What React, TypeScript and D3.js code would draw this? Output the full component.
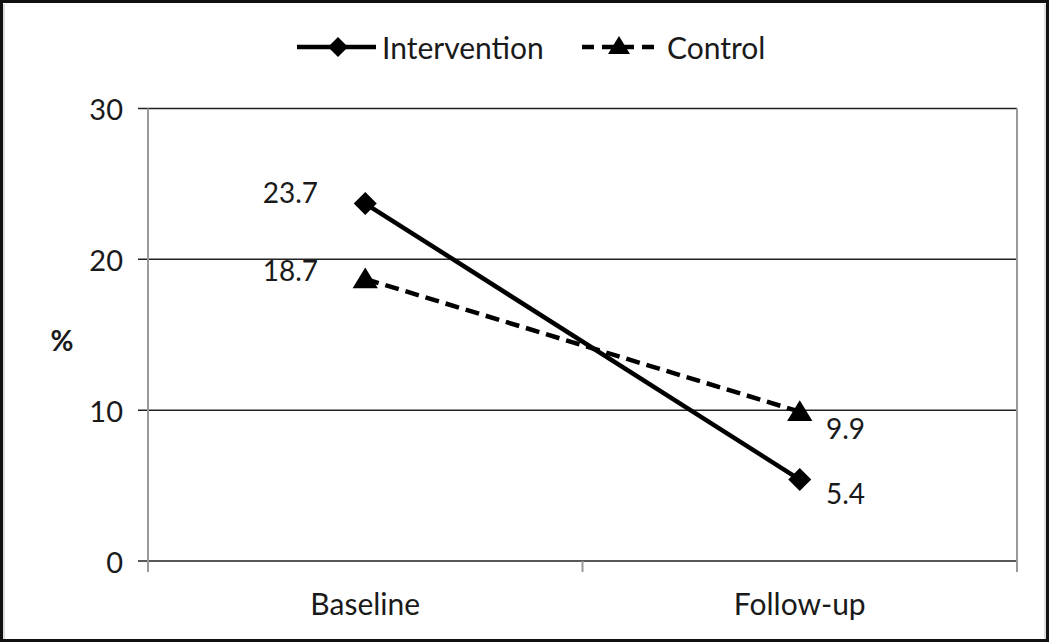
import React from "react";
import * as d3 from "d3";

const categories = ["Baseline", "Follow-up"];
const interventionValues = [23.7, 5.4];
const controlValues = [18.7, 9.9];
const yTicks = [0, 10, 20, 30];
const seriesNames = ["Intervention", "Control"];

const W = 1050, H = 643;
const FONT = "Lato, Carlito, 'Open Sans', sans-serif";
const TXT = "#1a1a1a";

export default function App() {
  const x0 = 148, x1 = 1017, yTop = 108.5, yBot = 561;
  const band = d3.scaleBand<string>().domain(categories).range([x0, x1]).paddingInner(0).paddingOuter(0);
  const xc = (c: string) => (band(c) as number) + band.bandwidth() / 2;
  const y = d3.scaleLinear().domain([0, 30]).range([yBot, yTop]);
  const line = d3.line<number>().x((_, i) => xc(categories[i])).y((v) => y(v));

  const diamond = (cx: number, cy: number, r: number) =>
    `M${cx},${cy - r}L${cx + r},${cy}L${cx},${cy + r}L${cx - r},${cy}Z`;
  const tri = (cx: number, cy: number, r: number) =>
    `M${cx},${cy - r}L${cx + r * 1.1},${cy + r * 0.8}L${cx - r * 1.1},${cy + r * 0.8}Z`;

  const catTicks = [x0, ...categories.map((c) => (band(c) as number) + band.bandwidth()).slice(0, -1), x1];

  return (
    <svg width={W} height={H} style={{ position: "absolute", left: 0, top: 0, fontFamily: FONT }}>
      <rect x={0} y={0} width={W} height={H} fill="#fff" />
      {/* frame */}
      <rect x={1.5} y={1.5} width={W - 4} height={H - 4} fill="none" stroke="#111" strokeWidth={3} />
      <line x1={4} y1={4} x2={4} y2={H - 4} stroke="#bbb" strokeWidth={1} />
      <line x1={W - 5} y1={4} x2={W - 5} y2={H - 4} stroke="#bbb" strokeWidth={1} />

      {/* gridlines */}
      {yTicks.map((t) => (
        <line key={t} x1={138} x2={x1} y1={y(t)} y2={y(t)} stroke="#222" strokeWidth={1.5} />
      ))}
      {/* axes */}
      <line x1={x0} x2={x0} y1={yTop} y2={572} stroke="#999" strokeWidth={2} />
      <line x1={x1} x2={x1} y1={yTop} y2={572} stroke="#999" strokeWidth={2} />
      {catTicks.map((t, i) => (
        <line key={i} x1={t} x2={t} y1={yBot} y2={572} stroke="#999" strokeWidth={2} />
      ))}
      {yTicks.map((t) => (
        <text key={t} x={123} y={y(t)} textAnchor="end" dominantBaseline="central" fontSize={29} fill={TXT}>
          {t}
        </text>
      ))}
      <text x={62} y={340} textAnchor="middle" dominantBaseline="central" fontSize={28} fontWeight="bold" fill={TXT}>%</text>
      {categories.map((c) => (
        <text key={c} x={xc(c)} y={603} textAnchor="middle" dominantBaseline="central" fontSize={30} fill={TXT}>
          {c}
        </text>
      ))}

      {/* series */}
      <path d={line(controlValues) || ""} fill="none" stroke="#000" strokeWidth={4.5} strokeDasharray="14,7" />
      <path d={line(interventionValues) || ""} fill="none" stroke="#000" strokeWidth={4.5} />
      {interventionValues.map((v, i) => (
        <path key={i} d={diamond(xc(categories[i]), y(v), 11.5)} fill="#000" />
      ))}
      {controlValues.map((v, i) => (
        <path key={i} d={tri(xc(categories[i]), y(v), 11.5)} fill="#000" />
      ))}

      {/* data labels */}
      <text x={318} y={192} textAnchor="end" dominantBaseline="central" fontSize={28} fill={TXT}>{interventionValues[0]}</text>
      <text x={318} y={270} textAnchor="end" dominantBaseline="central" fontSize={28} fill={TXT}>{controlValues[0]}</text>
      <text x={826} y={428} textAnchor="start" dominantBaseline="central" fontSize={28} fill={TXT}>{controlValues[1]}</text>
      <text x={826} y={493} textAnchor="start" dominantBaseline="central" fontSize={28} fill={TXT}>{interventionValues[1]}</text>

      {/* legend */}
      <line x1={297} x2={376} y1={47} y2={47} stroke="#000" strokeWidth={4.5} />
      <path d={diamond(338, 47, 10)} fill="#000" />
      <text x={382} y={47} dominantBaseline="central" fontSize={30} fill={TXT}>{seriesNames[0]}</text>
      <line x1={582} x2={662} y1={47} y2={47} stroke="#000" strokeWidth={4.5} strokeDasharray="12,8" />
      <path d={tri(619, 46, 10)} fill="#000" />
      <text x={667} y={47} dominantBaseline="central" fontSize={30} fill={TXT}>{seriesNames[1]}</text>
    </svg>
  );
}
